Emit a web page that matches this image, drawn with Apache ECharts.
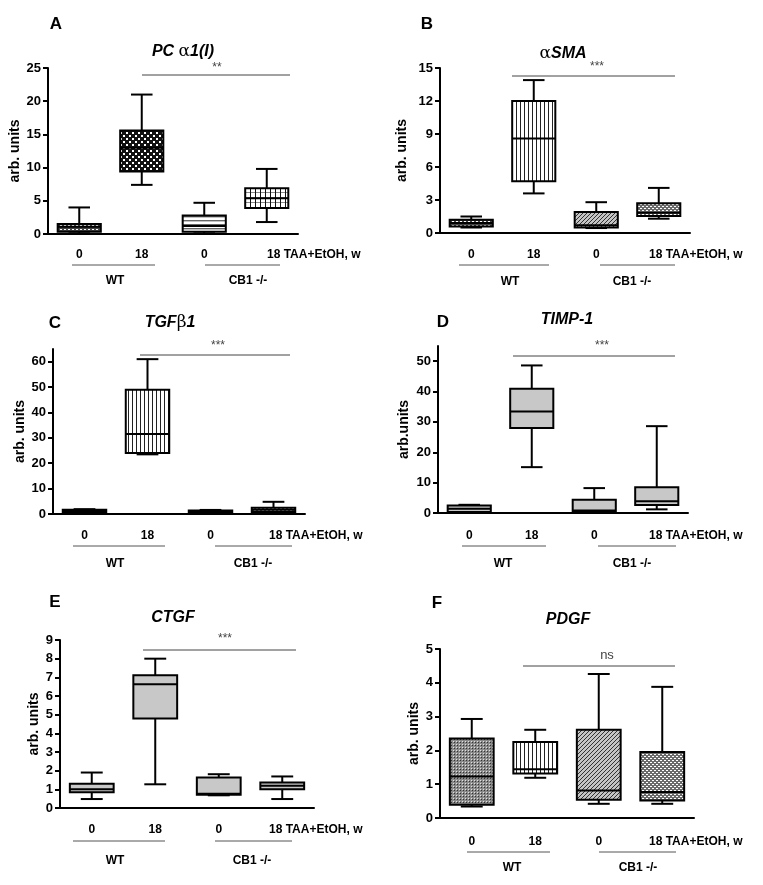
<!DOCTYPE html>
<html><head><meta charset="utf-8">
<script src="https://cdn.jsdelivr.net/npm/echarts@6/dist/echarts.min.js"></script>
<style>html,body{margin:0;padding:0;background:#fff}#c{width:763px;height:885px}</style>
</head><body><div id="c"></div>
<script>
// ---------- DATA ----------
const categories = ['0', '18', '0', '18'];
const groupLabels = ['WT', 'CB1 -/-'];
const xSuffix = 'TAA+EtOH, w';
// each row: [min, Q1, median, Q3, max] for WT 0w, WT 18w, CB1-/- 0w, CB1-/- 18w
const pcA1 = [[0.1, 0.35, 1.1, 1.5, 4.0], [7.4, 9.4, 13.0, 15.6, 21.0], [0.1, 0.35, 1.2, 2.8, 4.7], [1.8, 3.9, 5.4, 6.9, 9.8]];
const aSMA = [[0.5, 0.6, 0.9, 1.2, 1.5], [3.6, 4.7, 8.6, 12.0, 13.9], [0.45, 0.5, 0.7, 1.9, 2.8], [1.3, 1.55, 1.85, 2.7, 4.1]];
const tgfb1 = [[0.6, 0.8, 1.2, 1.7, 1.9], [23.5, 24.0, 31.5, 48.9, 61.0], [0.5, 0.7, 1.0, 1.4, 1.6], [0.5, 0.8, 1.7, 2.5, 4.8]];
const timp1 = [[0.2, 0.3, 1.4, 2.5, 2.7], [15.1, 28.0, 33.4, 40.9, 48.6], [0.2, 0.3, 0.8, 4.4, 8.2], [1.2, 2.6, 3.9, 8.5, 28.6]];
const ctgf = [[0.48, 0.85, 1.0, 1.3, 1.9], [1.27, 4.8, 6.63, 7.11, 8.0], [0.68, 0.71, 0.76, 1.64, 1.81], [0.48, 1.01, 1.19, 1.37, 1.69]];
const pdgf = [[0.34, 0.39, 1.23, 2.35, 2.93], [1.19, 1.32, 1.44, 2.25, 2.61], [0.42, 0.54, 0.81, 2.61, 4.26], [0.42, 0.52, 0.77, 1.95, 3.88]];
const yTicksA = [0, 5, 10, 15, 20, 25];
const yTicksB = [0, 3, 6, 9, 12, 15];
const yTicksC = [0, 10, 20, 30, 40, 50, 60];
const yTicksD = [0, 10, 20, 30, 40, 50];
const yTicksE = [0, 1, 2, 3, 4, 5, 6, 7, 8, 9];
const yTicksF = [0, 1, 2, 3, 4, 5];
const yMaxA = 25, yMaxB = 15, yMaxC = 65, yMaxD = 55, yMaxE = 9, yMaxF = 5;
const sigA = '**', sigB = '***', sigC = '***', sigD = '***', sigE = '***', sigF = 'ns';

// ---------- STYLE ----------
const FONT = '"Liberation Sans", Arial, sans-serif';
function pat(w, h, draw) {
  const c = document.createElement('canvas'); c.width = w; c.height = h;
  const g = c.getContext('2d'); draw(g); return { image: c, repeat: 'repeat' };
}
const P = {
  dashDark: pat(4, 4, g => { g.fillStyle = '#444'; g.fillRect(0, 0, 4, 4); g.fillStyle = '#fff'; g.fillRect(0, 1, 2, 1); }),
  check: pat(6, 6, g => { g.fillStyle = '#111'; g.fillRect(0, 0, 6, 6); g.fillStyle = '#fff'; g.fillRect(0, 0, 2, 2); g.fillRect(3, 3, 2, 2); }),
  hstripe: pat(4, 4, g => { g.fillStyle = '#fff'; g.fillRect(0, 0, 4, 4); g.fillStyle = '#666'; g.fillRect(0, 0, 4, 1.4); }),
  plaid: pat(5, 5, g => { g.fillStyle = '#fff'; g.fillRect(0, 0, 5, 5); g.fillStyle = '#888'; g.fillRect(0, 2, 5, 1); g.fillStyle = '#111'; g.fillRect(0, 0, 1, 5); }),
  vstripe: pat(4, 4, g => { g.fillStyle = '#fff'; g.fillRect(0, 0, 4, 4); g.fillStyle = '#222'; g.fillRect(0, 0, 1, 4); }),
  diag: pat(4, 4, g => { g.fillStyle = '#c4c4c4'; g.fillRect(0, 0, 4, 4); g.strokeStyle = '#333'; g.lineWidth = 1; g.beginPath(); g.moveTo(-1, 5); g.lineTo(5, -1); g.stroke(); }),
  wave: pat(4, 4, g => { g.fillStyle = '#6a6a6a'; g.fillRect(0, 0, 4, 4); g.fillStyle = '#fff'; g.fillRect(0, 0, 2, 1); g.fillRect(2, 2, 2, 1); }),
  fdots: pat(3, 3, g => { g.fillStyle = '#8a8a8a'; g.fillRect(0, 0, 3, 3); g.fillStyle = '#e0e0e0'; g.fillRect(0, 0, 1, 1); g.fillStyle = '#333'; g.fillRect(1, 1, 1, 1); }),
  gray: '#c8c8c8'
};

const panels = [
  { letter: 'A', data: pcA1, ticks: yTicksA, max: yMaxA, sig: sigA, yName: 'arb. units', nameGap: 26,
    title: '{i|PC }{g|α}{i|1(I)}', fills: [P.dashDark, P.check, P.hstripe, P.plaid],
    grid: { left: 48, top: 68, width: 250, height: 166 }, L: [56, 24], T: [183, 52],
    s: [142, 290, 75, 217, 68], labY: 255, lastX: 267, gY: 265, wt: [72, 155], cb: [205, 280], gLY: 281, wtX: 115, cbX: 248 },
  { letter: 'B', data: aSMA, ticks: yTicksB, max: yMaxB, sig: sigB, yName: 'arb. units', nameGap: 31,
    title: '{g|α}{i|SMA}', fills: [P.dashDark, P.vstripe, P.diag, P.wave],
    grid: { left: 440, top: 68, width: 250, height: 165 }, L: [427, 24], T: [563, 54],
    s: [512, 675, 76, 597, 67], labY: 255, lastX: 649, gY: 265, wt: [459, 549], cb: [600, 675], gLY: 282, wtX: 510, cbX: 632 },
  { letter: 'C', data: tgfb1, ticks: yTicksC, max: yMaxC, sig: sigC, yName: 'arb. units', nameGap: 25,
    title: '{i|TGF}{g|β}{i|1}', fills: [P.gray, P.vstripe, P.gray, P.wave],
    grid: { left: 53, top: 349, width: 252, height: 165 }, L: [55, 323], T: [170, 323],
    s: [140, 290, 355, 218, 346], labY: 536, lastX: 269, gY: 546, wt: [73, 165], cb: [215, 292], gLY: 564, wtX: 115, cbX: 253 },
  { letter: 'D', data: timp1, ticks: yTicksD, max: yMaxD, sig: sigD, yName: 'arb.units', nameGap: 27,
    title: '{i|TIMP-1}', fills: [P.gray, P.gray, P.gray, P.gray],
    grid: { left: 438, top: 346, width: 250, height: 167 }, L: [443, 322], T: [567, 320],
    s: [513, 675, 356, 602, 346], labY: 536, lastX: 649, gY: 546, wt: [462, 546], cb: [598, 676], gLY: 564, wtX: 503, cbX: 632 },
  { letter: 'E', data: ctgf, ticks: yTicksE, max: yMaxE, sig: sigE, yName: 'arb. units', nameGap: 19,
    title: '{i|CTGF}', fills: [P.gray, P.gray, P.gray, P.gray],
    grid: { left: 60, top: 640, width: 254, height: 168 }, L: [55, 602], T: [173, 618],
    s: [143, 296, 650, 225, 639], labY: 830, lastX: 269, gY: 841, wt: [73, 165], cb: [215, 292], gLY: 861, wtX: 115, cbX: 252 },
  { letter: 'F', data: pdgf, ticks: yTicksF, max: yMaxF, sig: sigF, yName: 'arb. units', nameGap: 19,
    title: '{i|PDGF}', fills: [P.fdots, P.vstripe, P.diag, P.wave],
    grid: { left: 440, top: 649, width: 254, height: 169 }, L: [437, 603], T: [568, 620],
    s: [523, 675, 666, 607, 655], labY: 842, lastX: 649, gY: 852, wt: [467, 550], cb: [599, 676], gLY: 868, wtX: 512, cbX: 638 }
];

function makeRender(fills) {
  return function (params, api) {
    const k = api.value(0);
    const ys = [1, 2, 3, 4, 5].map(d => api.coord([k, api.value(d)])[1]);
    const cx = api.coord([k, 0])[0];
    const bw = api.size([1, 0])[0] * 0.69;
    const cw = bw * 0.25;
    const ls = { stroke: '#000', lineWidth: 2 };
    return { type: 'group', children: [
      { type: 'line', shape: { x1: cx, y1: ys[3], x2: cx, y2: ys[4] }, style: ls },
      { type: 'line', shape: { x1: cx - cw, y1: ys[4], x2: cx + cw, y2: ys[4] }, style: ls },
      { type: 'line', shape: { x1: cx, y1: ys[1], x2: cx, y2: ys[0] }, style: ls },
      { type: 'line', shape: { x1: cx - cw, y1: ys[0], x2: cx + cw, y2: ys[0] }, style: ls },
      { type: 'rect', shape: { x: cx - bw / 2, y: ys[3], width: bw, height: ys[1] - ys[3] }, style: { fill: fills[k], stroke: '#000', lineWidth: 2 } },
      { type: 'line', shape: { x1: cx - bw / 2, y1: ys[2], x2: cx + bw / 2, y2: ys[2] }, style: ls }
    ] };
  };
}

const lastIdx = categories.length - 1;
const grid = [], xAxis = [], yAxis = [], series = [], graphic = [];
panels.forEach((p, i) => {
  grid.push(Object.assign({ containLabel: false }, p.grid));
  xAxis.push({ type: 'category', gridIndex: i, data: categories, boundaryGap: true,
    axisLine: { lineStyle: { color: '#000', width: 2 } },
    axisTick: { alignWithLabel: true, length: 6, lineStyle: { color: '#000', width: 2 } },
    axisLabel: { color: '#000', fontWeight: 'bold', fontSize: 12, fontFamily: FONT, margin: p.labY - p.grid.top - p.grid.height - 6,
      formatter: (v, idx) => idx === lastIdx ? '' : v } });
  yAxis.push({ type: 'value', gridIndex: i, min: 0, max: p.max,
    axisLine: { show: true, lineStyle: { color: '#000', width: 2 } },
    axisTick: { show: true, length: 5, lineStyle: { color: '#000', width: 2 }, customValues: p.ticks },
    axisLabel: { color: '#000', fontWeight: 'bold', fontSize: 13, fontFamily: FONT, margin: 7, customValues: p.ticks },
    splitLine: { show: false },
    name: p.yName, nameLocation: 'middle', nameGap: p.nameGap,
    nameTextStyle: { color: '#000', fontWeight: 'bold', fontSize: 14, fontFamily: FONT } });
  series.push({ type: 'custom', xAxisIndex: i, yAxisIndex: i, clip: false,
    data: p.data.map((v, k) => [k].concat(v)), encode: { x: 0, y: [1, 2, 3, 4, 5] },
    renderItem: makeRender(p.fills) });
  graphic.push({ type: 'text', x: p.L[0], y: p.L[1], style: { text: p.letter, align: 'center', verticalAlign: 'middle', font: 'bold 17px ' + FONT, fill: '#000' } });
  graphic.push({ type: 'text', x: p.T[0], y: p.T[1], style: { text: p.title, align: 'center', verticalAlign: 'middle',
    rich: { i: { font: 'italic bold 16px ' + FONT, fill: '#000' }, g: { font: '17px "DejaVu Serif", "Liberation Serif", serif', fill: '#000' } } } });
  graphic.push({ type: 'line', shape: { x1: p.s[0], y1: p.s[2], x2: p.s[1], y2: p.s[2] }, style: { stroke: '#444', lineWidth: 1 } });
  graphic.push({ type: 'text', x: p.s[3], y: p.s[4], style: { text: p.sig, align: 'center', verticalAlign: 'middle', font: (p.sig === 'ns' ? '13px ' : '12px ') + FONT, fill: '#444' } });
  graphic.push({ type: 'text', x: p.lastX, y: p.labY, style: { text: categories[lastIdx] + ' ' + xSuffix, align: 'left', verticalAlign: 'middle', font: 'bold 12px ' + FONT, fill: '#000' } });
  graphic.push({ type: 'line', shape: { x1: p.wt[0], y1: p.gY, x2: p.wt[1], y2: p.gY }, style: { stroke: '#555', lineWidth: 1 } });
  graphic.push({ type: 'line', shape: { x1: p.cb[0], y1: p.gY, x2: p.cb[1], y2: p.gY }, style: { stroke: '#555', lineWidth: 1 } });
  graphic.push({ type: 'text', x: p.wtX, y: p.gLY, style: { text: groupLabels[0], align: 'center', verticalAlign: 'middle', font: 'bold 12px ' + FONT, fill: '#000' } });
  graphic.push({ type: 'text', x: p.cbX, y: p.gLY, style: { text: groupLabels[1], align: 'center', verticalAlign: 'middle', font: 'bold 12px ' + FONT, fill: '#000' } });
});

const chart = echarts.init(document.getElementById('c'), null, { renderer: 'canvas' });
chart.setOption({ backgroundColor: '#fff', animation: false, grid, xAxis, yAxis, series, graphic });
</script>
</body></html>
